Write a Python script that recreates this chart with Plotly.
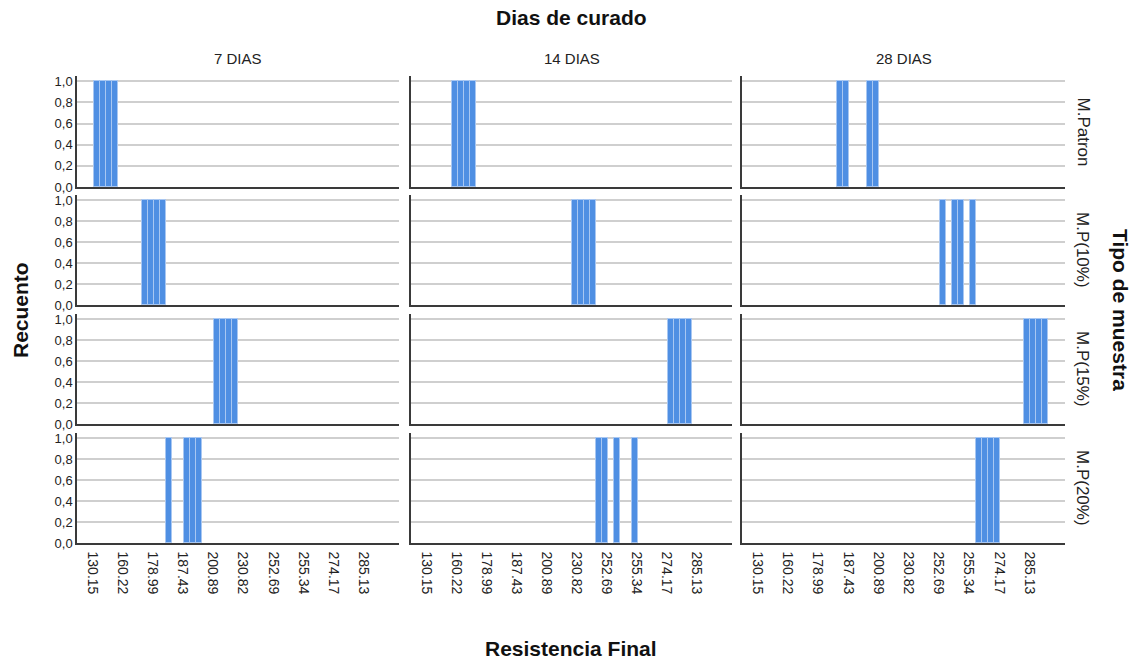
from collections import Counter

import plotly.graph_objects as go

# Resistencia final por tipo de muestra y días de curado (una muestra por valor)
dias = ["7 DIAS", "14 DIAS", "28 DIAS"]
tipos = ["M.Patron", "M.P(10%)", "M.P(15%)", "M.P(20%)"]

patron_7 = [130.15, 135.42, 141.87, 148.36]
patron_14 = [155.08, 160.22, 165.47, 170.93]
patron_28 = [184.12, 185.96, 196.05, 198.74]

mp10_7 = [172.31, 175.64, 178.99, 180.52]
mp10_14 = [226.17, 230.82, 236.45, 241.08]
mp10_28 = [252.69, 254.12, 254.87, 255.34]

mp15_7 = [200.89, 205.73, 212.40, 219.85]
mp15_14 = [274.17, 276.38, 279.02, 282.46]
mp15_28 = [284.21, 285.13, 288.59, 292.37]

mp20_7 = [182.06, 187.43, 190.28, 193.51]
mp20_14 = [245.36, 249.11, 253.47, 255.02]
mp20_28 = [258.44, 262.19, 266.73, 270.58]

grid_values = [
    [patron_7, patron_14, patron_28],
    [mp10_7, mp10_14, mp10_28],
    [mp15_7, mp15_14, mp15_28],
    [mp20_7, mp20_14, mp20_28],
]

# Every fifth category is labelled on the shared axis
tick_labels = ["130.15", "160.22", "178.99", "187.43", "200.89",
               "230.82", "252.69", "255.34", "274.17", "285.13"]

all_values = sorted({v for row in grid_values for cell in row for v in cell})
categories = [f"{v:.2f}" for v in all_values]

W, H = 1139, 660
col_px = [(77, 399), (411, 732), (742, 1065)]
row_px = [(76, 187), (195, 305), (314, 424), (433, 543)]

BAR_FILL = "#4F8FE3"
BAR_EDGE = "#A8C7F2"
GRID = "#CFCFCF"
AXIS = "#3A3A3A"
FONT = "Liberation Sans, Arial, sans-serif"

fig = go.Figure()
layout = {}
n = len(categories)
pad = 2.75

for r, row in enumerate(grid_values):
    for c, vals in enumerate(row):
        k = r * 3 + c + 1
        xa = "x" if k == 1 else f"x{k}"
        ya = "y" if k == 1 else f"y{k}"
        counts = Counter(f"{v:.2f}" for v in vals)
        xs = list(counts.keys())
        ys = [counts[x] for x in xs]
        fig.add_trace(go.Bar(
            x=xs, y=ys, xaxis=xa, yaxis=ya,
            marker=dict(color=BAR_FILL, line=dict(color=BAR_EDGE, width=1)),
            width=1.0, showlegend=False, hoverinfo="x+y",
        ))
        x0, x1 = col_px[c]
        y0, y1 = row_px[r]
        layout["xaxis" if k == 1 else f"xaxis{k}"] = dict(
            domain=[x0 / W, x1 / W], anchor=ya,
            type="category", categoryorder="array", categoryarray=categories,
            range=[-0.5 - pad, n - 0.5 + pad],
            tickmode="array", tickvals=tick_labels, ticktext=tick_labels,
            showticklabels=(r == 3), tickangle=90, ticklabelshift=-4,
            ticklabelstandoff=4,
            tickfont=dict(family=FONT, size=14, color="#222"),
            ticks="", showgrid=False, zeroline=False,
            showline=True, linecolor=AXIS, linewidth=1.5,
            automargin=False, fixedrange=True,
        )
        layout["yaxis" if k == 1 else f"yaxis{k}"] = dict(
            domain=[1 - y1 / H, 1 - y0 / H], anchor=xa,
            range=[0, 1.05], tickmode="array",
            tickvals=[0, 0.2, 0.4, 0.6, 0.8, 1.0],
            ticktext=["0,0", "0,2", "0,4", "0,6", "0,8", "1,0"],
            showticklabels=(c == 0), ticks="",
            tickfont=dict(family=FONT, size=13, color="#222"),
            showgrid=True, gridcolor=GRID, gridwidth=1.5, zeroline=False,
            showline=True, linecolor=AXIS, linewidth=1.5,
            automargin=False, fixedrange=True,
        )


def label(text, px, py, size, angle=0, color="#222"):
    return dict(text=text, x=px / W, y=1 - py / H, xref="paper", yref="paper",
                xanchor="center", yanchor="middle", showarrow=False,
                textangle=angle, font=dict(family=FONT, size=size, color=color))


annotations = []
# Column headers
for c, name in enumerate(dias):
    x0, x1 = col_px[c]
    annotations.append(label(name, (x0 + x1) / 2, 59, 15))
# Row headers
for r, name in enumerate(tipos):
    y0, y1 = row_px[r]
    annotations.append(label(name, 1083, (y0 + y1) / 2, 17, angle=90))

annotations += [
    label("<b>Dias de curado</b>", 571, 18, 21, color="#111"),
    label("<b>Resistencia Final</b>", 571, 648, 21, color="#111"),
    label("<b>Recuento</b>", 20, 310, 21, angle=-90, color="#111"),
    label("<b>Tipo de muestra</b>", 1121, 310, 21, angle=90, color="#111"),
]

fig.update_layout(
    width=W, height=H,
    margin=dict(l=0, r=0, t=0, b=0),
    paper_bgcolor="white", plot_bgcolor="white",
    bargap=0, annotations=annotations,
    font=dict(family=FONT),
    **layout,
)

fig.write_html("out.html", config={"displayModeBar": False})
